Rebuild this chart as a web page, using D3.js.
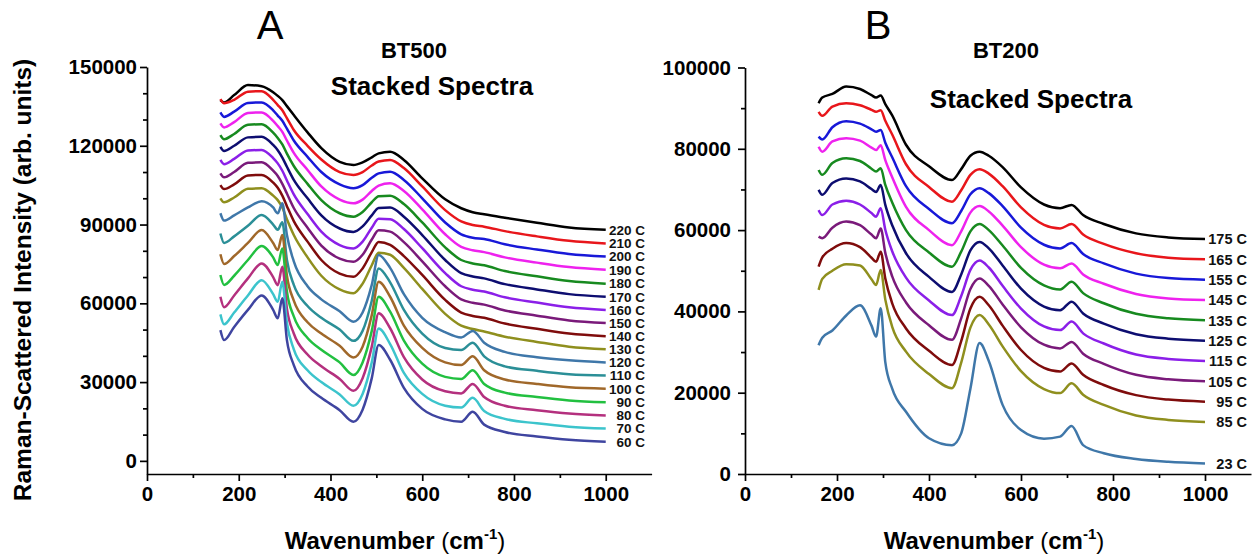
<!DOCTYPE html>
<html><head><meta charset="utf-8">
<script src="https://cdn.jsdelivr.net/npm/d3@7"></script>
<style>
body{margin:0;background:#fff;}
svg{display:block;font-family:"Liberation Sans",Arial,sans-serif;}
</style></head><body>
<svg id="chart" width="1254" height="559"></svg>
<script>
// ---------- DATA ----------
const wavenumbersA = [160,168,190,220,250,275,285,295,305,320,350,380,420,450,470,490,505,530,560,600,650,685,710,735,780,850,920,1000];
const wavenumbersB = [160,168,190,220,250,275,285,295,305,320,350,400,450,470,490,510,530,560,600,650,685,710,735,780,850,920,1000];

const labelsA = ["220 C","210 C","200 C","190 C","180 C","170 C","160 C","150 C","140 C","130 C","120 C","110 C","100 C","90 C","80 C","70 C","60 C"];
const colorsA = ["#000000","#e8161b","#1818d8","#ee22ee","#178a1f","#0d0d70","#8b1fe8","#7a1a7a","#7f0c0c","#8f8f1e","#3f77a9","#2b8f97","#a0682a","#22c040","#b4307e","#3cc4cc","#3f45a0"];

const bt500_220C = [137400,136500,139300,143100,142700,140400,139000,137400,135100,131700,125100,119100,113900,112700,113700,115600,117100,117700,114600,107600,99600,96200,94700,93900,92600,90700,88900,88000];
const bt500_210C = [137800,136200,137500,140600,140800,137500,135500,133500,130500,126000,120000,114800,110000,108900,110000,112500,114000,114600,111500,104500,95500,91200,89800,89200,87500,85500,83800,82800];
const bt500_200C = [132700,131000,133000,136300,136500,133500,131500,129500,126500,122000,115800,110000,105300,103800,105000,107800,109500,110100,107000,100000,90800,86300,85000,84500,82500,80500,78800,77800];
const bt500_190C = [128500,127000,129000,132500,132700,129500,127500,125300,122000,117300,110800,104500,99500,98100,99500,102800,104800,105700,102800,95800,86300,81500,80200,79500,77500,75500,73800,72800];
const bt500_180C = [124100,122500,124500,128000,128200,125000,123000,120500,117000,112300,105500,99300,94300,93000,94800,98500,100800,101000,97800,90800,81300,76500,75200,74500,72300,70300,68500,67500];
const bt500_170C = [119600,118000,120000,123200,123400,120300,118300,115500,112000,107000,100000,93500,88500,87200,89300,93500,96300,96500,93000,86000,76500,71500,70200,69500,67300,65300,63500,62500];
const bt500_160C = [114600,113000,115000,118200,118400,115300,113300,110500,106800,101500,94000,87300,82200,80900,83500,88800,92200,92000,88300,81000,71500,66500,65200,64500,62300,60300,58500,57500];
const bt500_150C = [109500,108000,110000,113500,113700,110500,108500,105500,101800,96300,88800,82000,77000,75800,78500,84300,87800,87300,83300,76000,66500,61500,60200,59500,57300,55300,53500,52500];
const bt500_140C = [105000,103500,105300,108700,108900,106000,104000,101000,97000,91300,83500,76500,71300,70100,73300,79500,83400,82300,78000,70800,61300,56500,55200,54500,52300,50300,48500,47500];
const bt500_130C = [100000,98500,100300,103600,103800,101000,99300,96500,92000,86000,77500,70500,65300,63800,67500,74500,79300,78500,73500,65500,56000,51500,50200,49300,47300,45300,43500,42500];
const bt500_120C = [94300,91500,93500,96500,98900,96500,94300,98100,86000,76000,66500,61500,57000,53000,56500,67000,78400,73500,63500,54500,49000,47000,49500,45000,41500,39500,38300,37500];
const bt500_110C = [86600,83000,85500,89500,93600,90000,88000,90900,76500,67000,59000,54500,50000,45700,49500,61000,73300,68000,57500,48500,43000,42200,45000,39800,36000,34300,33000,32500];
const bt500_100C = [78700,75000,78000,83000,87900,83000,80300,86000,70500,61000,52800,48500,43800,39400,43500,55500,68200,62500,51500,43000,37500,36500,39800,34500,31000,29300,28000,27500];
const bt500_90C  = [70800,67000,70500,76500,81800,77500,74600,80900,64500,55000,46800,42300,37500,32700,37500,49500,62500,56800,45800,37000,32000,31200,34500,29300,26000,24300,23000,22300];
const bt500_80C  = [62500,58500,63000,69500,75200,70000,66900,73900,58000,48500,40500,36000,31200,26700,31500,43500,56200,50500,39500,31000,26500,25700,29300,24300,21000,19300,18000,17300];
const bt500_70C  = [55800,52000,56500,63000,68800,63500,60600,68200,52500,42500,34500,30000,25300,21000,25500,37500,50400,44500,33500,25500,21000,20300,24000,19000,16000,14300,13000,12300];
const bt500_60C  = [49800,46000,51000,57500,63000,57500,54300,61900,46000,36500,28300,24000,19300,14900,19500,31500,44100,38500,27800,19800,15800,14900,18700,13800,11000,9300,8000,7300];

const labelsB = ["175 C","165 C","155 C","145 C","135 C","125 C","115 C","105 C","95 C","85 C","23 C"];
const colorsB = ["#000000","#e8161b","#1818d8","#ee22ee","#178a1f","#0d0d70","#8b1fe8","#7a1a7a","#7f0c0c","#8f8f1e","#3f77a9"];

const bt200_175C = [91200,92600,93500,95300,94700,93200,92600,93100,91000,88200,81000,75700,72300,75000,78300,79300,78300,75500,70500,66300,65400,66200,63700,61500,59200,58200,57800];
const bt200_165C = [89100,88100,90400,91200,90700,89600,89100,89500,86900,83500,76200,70600,67000,69800,73600,75000,73900,70800,65600,61300,60400,61500,58900,56600,54300,53200,52800];
const bt200_155C = [83000,82300,85300,86800,86200,84800,84200,84600,81500,77900,70800,65200,61700,64700,68800,70300,69100,65900,60600,56400,55500,56800,54100,51800,49300,48200,47800];
const bt200_145C = [80500,79300,81800,82600,82000,80300,79700,80900,77200,73000,65700,60000,56300,59700,64300,65900,64600,61100,55800,51500,50600,51800,49100,46800,44300,43200,42800];
const bt200_135C = [74800,73600,76500,77700,77000,75100,74400,75200,71100,66800,60000,54500,51000,54700,59700,61500,60000,56200,50700,46400,45400,47300,44500,42000,39400,38300,37800];
const bt200_125C = [69900,68700,71600,72700,72000,70100,69400,71100,66200,61200,54300,48500,44800,49100,55000,57100,55500,51300,45600,41200,40300,42400,39500,37000,34400,33300,32800];
const bt200_115C = [64900,63700,66300,67200,66300,64200,63300,65400,60100,54800,48300,42700,39100,43800,50200,52500,50800,46300,40700,36300,35400,37500,34600,32100,29400,28300,27800];
const bt200_105C = [58400,58000,60600,62100,61200,58900,58000,60400,54400,48600,42200,36600,33000,38300,45500,48100,46300,41700,36100,31800,30900,32500,29600,27100,24400,23300,22800];
const bt200_95C  = [51000,53300,55400,56800,55800,53200,52200,54700,48100,42000,35800,30300,26800,32700,40700,43600,41500,36500,30500,26100,25200,27200,24400,21900,19400,18300,17800];
const bt200_85C  = [45300,48000,50000,51600,51300,47900,46500,50200,42900,36200,30100,24600,21100,27400,36000,39100,36800,31400,25300,20900,19900,22300,19500,17000,14400,13300,12800];
const bt200_23C  = [31700,33500,35300,39000,41500,36500,33800,40800,27500,21000,15300,8800,7100,10000,21000,32200,27800,17000,10800,8700,9200,11800,7100,5100,3700,3000,2600];

const xTicksMajor = [0,200,400,600,800,1000];
const xTicksMinor = [100,300,500,700,900];
const yTicksA = [0,30000,60000,90000,120000,150000];
const yMinorA = [10000,20000,40000,50000,70000,80000,100000,110000,130000,140000];
const yTicksB = [0,20000,40000,60000,80000,100000];
const yMinorB = [10000,30000,50000,70000,90000];

const seriesA = [bt500_220C,bt500_210C,bt500_200C,bt500_190C,bt500_180C,bt500_170C,bt500_160C,bt500_150C,bt500_140C,bt500_130C,bt500_120C,bt500_110C,bt500_100C,bt500_90C,bt500_80C,bt500_70C,bt500_60C];
const seriesB = [bt200_175C,bt200_165C,bt200_155C,bt200_145C,bt200_135C,bt200_125C,bt200_115C,bt200_105C,bt200_95C,bt200_85C,bt200_23C];

// ---------- DRAW ----------
const svg = d3.select("#chart");
const FONT = '"Liberation Sans", Arial, sans-serif';

function drawPanel(o){
  const g = svg.append("g");
  const x = d3.scaleLinear().domain([0,1100]).range([o.x0, o.x1]);
  const y = d3.scaleLinear().domain(o.yDomain).range([o.yBottom, o.yTop]);

  // minor ticks
  g.append("g").attr("transform",`translate(0,${o.yBottom})`)
    .call(d3.axisBottom(x).tickValues(xTicksMinor).tickSize(4).tickFormat(""))
    .call(s=>s.select(".domain").remove());
  g.append("g").attr("transform",`translate(${o.x0},0)`)
    .call(d3.axisLeft(y).tickValues(o.yMinor).tickSize(4).tickFormat(""))
    .call(s=>s.select(".domain").remove());

  const xa = g.append("g").attr("transform",`translate(0,${o.yBottom})`)
    .call(d3.axisBottom(x).tickValues(xTicksMajor).tickSize(7).tickSizeOuter(0).tickPadding(5).tickFormat(d3.format("d")));
  const ya = g.append("g").attr("transform",`translate(${o.x0},0)`)
    .call(d3.axisLeft(y).tickValues(o.yTicks).tickSize(7).tickSizeOuter(0).tickPadding(o.yPad).tickFormat(d3.format("d")));
  [xa,ya].forEach(a=>{
    a.selectAll("path,line").attr("stroke","#000").attr("stroke-width",1.7);
    a.selectAll("text").attr("font-family",FONT).attr("font-weight","bold").attr("font-size",20.5).attr("fill","#000");
  });
  g.selectAll("line").attr("stroke","#000").attr("stroke-width",1.7);

  const line = d3.line().x((d,i)=>x(o.waves[i])).y(d=>y(d)).curve(d3.curveMonotoneX);
  o.series.forEach((s,i)=>{
    g.append("path").datum(s).attr("d",line).attr("fill","none")
      .attr("stroke",o.colors[i]).attr("stroke-width",2.5).attr("stroke-linejoin","round");
  });
  o.series.forEach((s,i)=>{
    g.append("text").attr("x",o.labelRight).attr("y",y(s[s.length-1]))
      .attr("dy","0.36em").attr("text-anchor","end")
      .attr("font-family",FONT).attr("font-weight","bold").attr("font-size",o.labelSize)
      .attr("fill","#111").text(o.labels[i]);
  });

  // x axis title
  const t = g.append("text").attr("x",o.xTitleX).attr("y",549).attr("text-anchor","middle")
    .attr("font-family",FONT).attr("font-size",24).attr("fill","#000");
  t.append("tspan").attr("font-weight","bold").text("Wavenumber ");
  t.append("tspan").attr("font-weight","normal").text("(");
  t.append("tspan").attr("font-weight","bold").text("cm");
  t.append("tspan").attr("font-weight","bold").attr("font-size",15).attr("dy",-10).text("-1");
  t.append("tspan").attr("font-weight","normal").attr("dy",10).text(")");

  // panel letter and titles
  g.append("text").attr("x",o.letterX).attr("y",39).attr("text-anchor","middle")
    .attr("font-family",FONT).attr("font-size",40).attr("fill","#000").text(o.letter);
  g.append("text").attr("x",o.t1X).attr("y",58).attr("text-anchor","middle")
    .attr("font-family",FONT).attr("font-weight","bold").attr("font-size",22).text(o.title1);
  g.append("text").attr("x",o.t2X).attr("y",o.t2Y).attr("text-anchor","middle")
    .attr("font-family",FONT).attr("font-weight","bold").attr("font-size",26).text("Stacked Spectra");
}

drawPanel({x0:147,x1:651.6,yTop:67,yBottom:474,yDomain:[-5000,150000],yTicks:yTicksA,yMinor:yMinorA,yPad:3,
  waves:wavenumbersA,series:seriesA,labels:labelsA,colors:colorsA,labelRight:645,labelSize:13.5,
  xTitleX:395,letter:"A",letterX:270,title1:"BT500",t1X:414,t2X:432,t2Y:95});
drawPanel({x0:745,x1:1251,yTop:67.5,yBottom:474,yDomain:[0,100000],yTicks:yTicksB,yMinor:yMinorB,yPad:7,
  waves:wavenumbersB,series:seriesB,labels:labelsB,colors:colorsB,labelRight:1247,labelSize:14.5,
  xTitleX:994,letter:"B",letterX:878,title1:"BT200",t1X:1006,t2X:1031,t2Y:108});

// y axis title
svg.append("text").attr("transform","translate(31,280) rotate(-90)").attr("text-anchor","middle")
  .attr("font-family",FONT).attr("font-weight","bold").attr("font-size",24.5).attr("fill","#000")
  .text("Raman-Scattered Intensity (arb. units)");
</script>
</body></html>
